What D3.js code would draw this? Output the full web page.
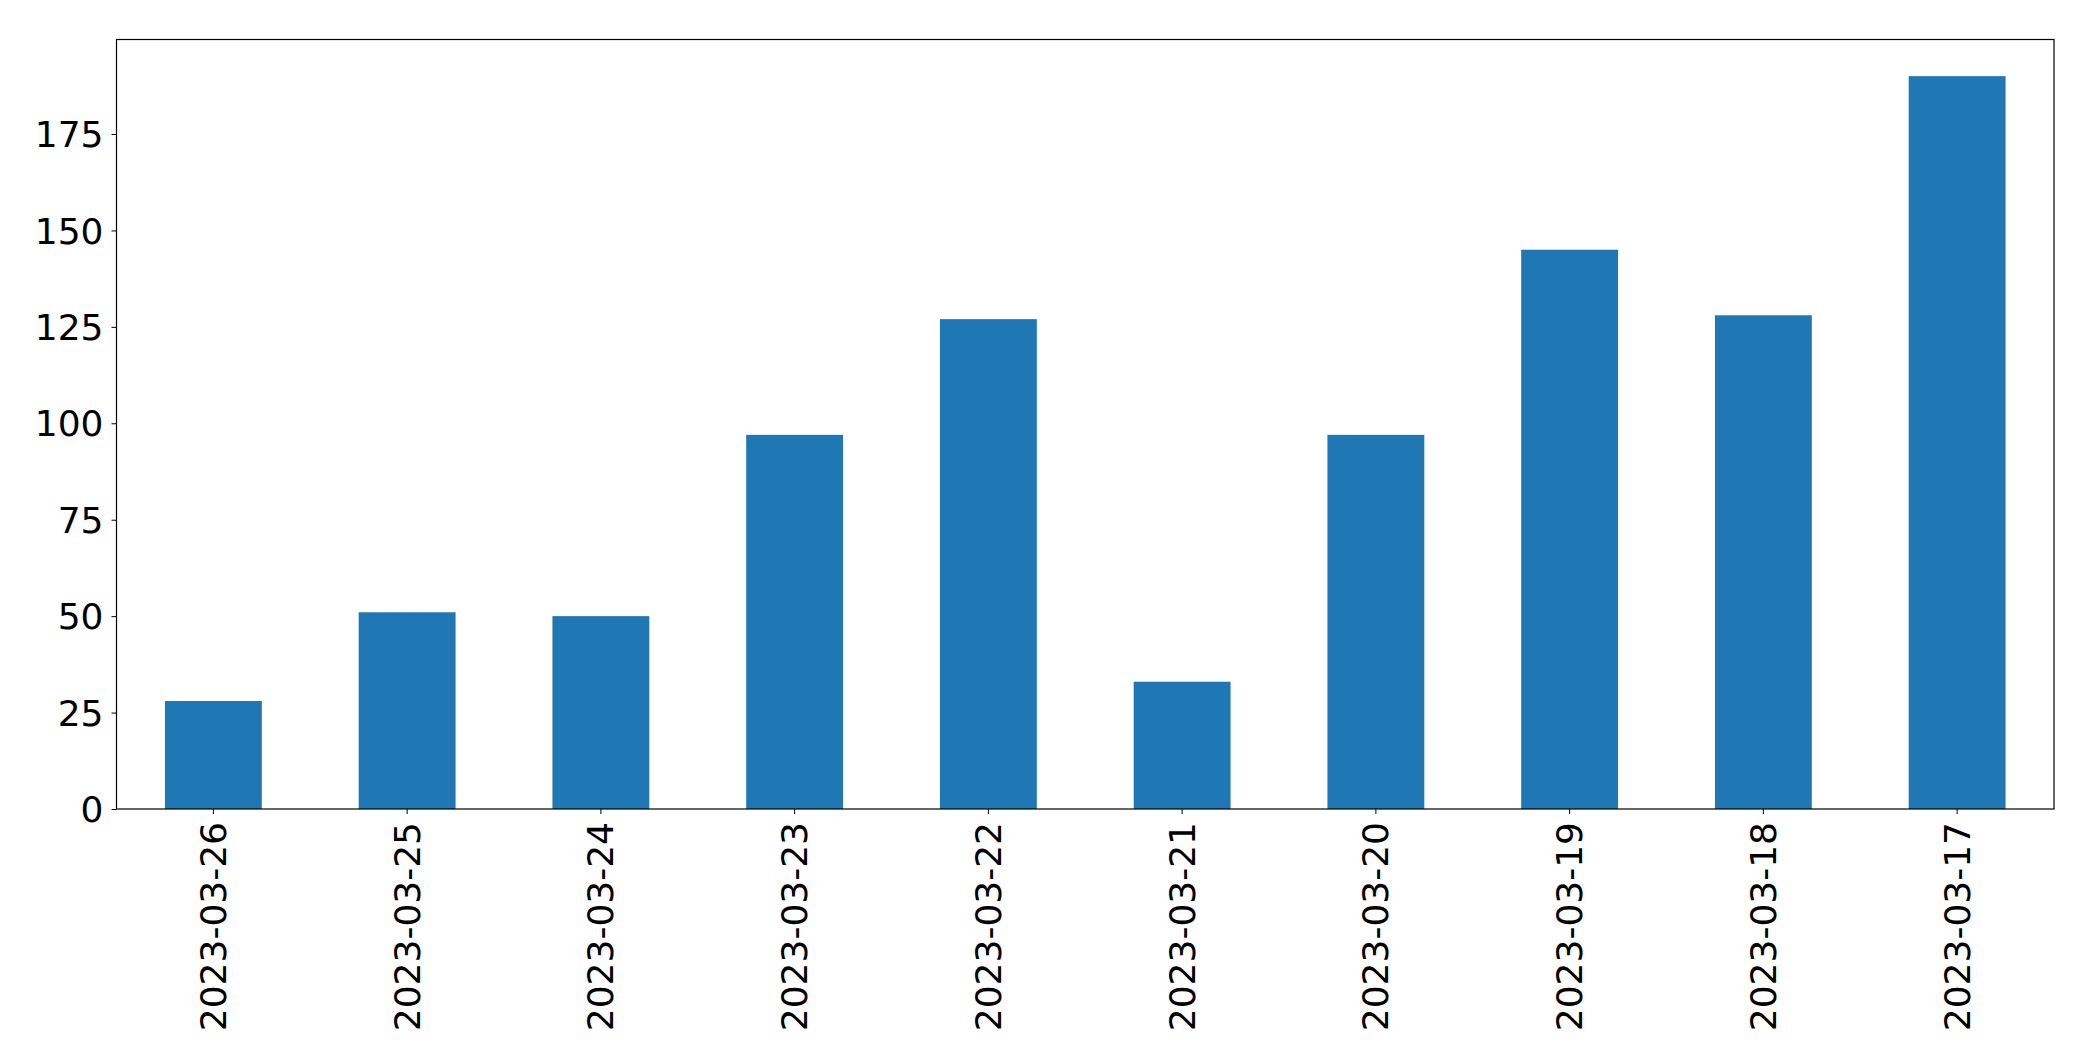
<!DOCTYPE html>
<html>
<head>
<meta charset="utf-8">
<script src="https://cdn.jsdelivr.net/npm/d3@7"></script>
<style>
  body { margin: 0; background: #fff; }
  svg { display: block; }
  .tick text { font-family: "DejaVu Sans", sans-serif; font-size: 36px; fill: #000; }
</style>
</head>
<body>
<div id="chart"></div>
<script>
const dates = ["2023-03-26", "2023-03-25", "2023-03-24", "2023-03-23", "2023-03-22",
               "2023-03-21", "2023-03-20", "2023-03-19", "2023-03-18", "2023-03-17"];
const counts = [28, 51, 50, 97, 127, 33, 97, 145, 128, 190];
const yTicks = [0, 25, 50, 75, 100, 125, 150, 175];

const width = 2093, height = 1061;
const margin = {top: 39.5, right: 39, bottom: 252, left: 116.5};

const svg = d3.select("#chart").append("svg").attr("width", width).attr("height", height);

const x = d3.scaleBand().domain(dates).range([margin.left, width - margin.right]).paddingInner(0.5).paddingOuter(0.25);
const y = d3.scaleLinear().domain([0, d3.max(counts) * 1.05]).range([height - margin.bottom, margin.top]);

svg.append("g").selectAll("rect").data(dates).join("rect")
    .attr("x", d => x(d)).attr("width", x.bandwidth())
    .attr("y", (d, i) => y(counts[i])).attr("height", (d, i) => y(0) - y(counts[i]))
    .attr("fill", "#1f77b4");

// frame
svg.append("rect").attr("x", margin.left).attr("y", margin.top)
    .attr("width", width - margin.left - margin.right).attr("height", height - margin.top - margin.bottom)
    .attr("fill", "none").attr("stroke", "#000").attr("stroke-width", 1.2);

const yAxis = svg.append("g").attr("transform", `translate(${margin.left},0)`)
    .call(d3.axisLeft(y).tickValues(yTicks).tickSize(5).tickPadding(8));
yAxis.select(".domain").remove();
yAxis.selectAll(".tick text").attr("dy", "0.35em");

const xAxis = svg.append("g").attr("transform", `translate(0,${height - margin.bottom})`)
    .call(d3.axisBottom(x).tickSize(5).tickPadding(0));
xAxis.select(".domain").remove();
xAxis.selectAll(".tick text")
    .attr("transform", "rotate(-90)")
    .attr("text-anchor", "end")
    .attr("x", -13).attr("y", 0).attr("dy", "0.35em");
</script>
</body>
</html>
